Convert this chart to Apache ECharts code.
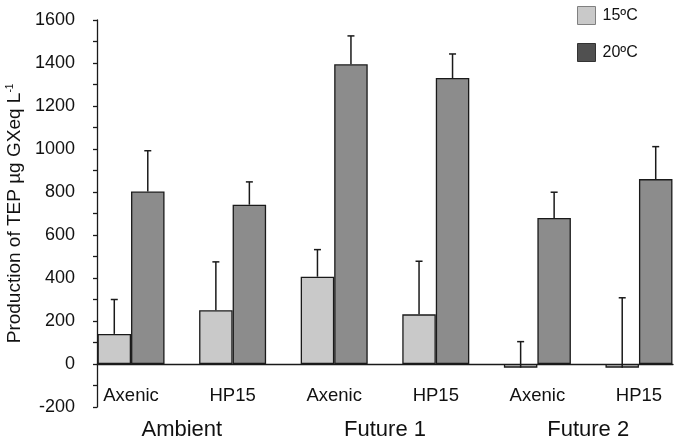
<!DOCTYPE html>
<html>
<head>
<meta charset="utf-8">
<script src="https://cdn.jsdelivr.net/npm/echarts@6/dist/echarts.min.js"></script>
<style>
html,body{margin:0;padding:0;background:#fff;}
#chart{width:680px;height:444px;}
</style>
</head>
<body>
<div id="chart"></div>
<script>
// ---- data ----
var categories = ['Axenic', 'HP15', 'Axenic', 'HP15', 'Axenic', 'HP15'];
var groups = ['Ambient', 'Future 1', 'Future 2'];
var seriesNames = ['15ºC', '20ºC'];
var values15 = [140, 250, 406, 231, -17, -17];
var errors15 = [160, 225, 126, 247, 121, 325];
var values20 = [802, 741, 1394, 1330, 679, 860];
var errors20 = [190, 106, 132, 112, 120, 151];
var yTicks = [-200, 0, 200, 400, 600, 800, 1000, 1200, 1400, 1600];

// ---- styling ----
var FONT = '"Liberation Sans", Arial, Helvetica, sans-serif';
var BAR_W = 33.5;
var C15 = '#c9c9c9';
var C20 = '#8c8c8c';

function pairs(vals) { return vals.map(function (v, i) { return [i, v]; }); }
function errData(vals, errs) { return vals.map(function (v, i) { return [i, v, errs[i]]; }); }

function errorRenderer(side) {
  return function (params, api) {
    var x = api.value(0), v = api.value(1), e = api.value(2);
    var p0 = api.coord([x, v]);
    var p1 = api.coord([x, v + e]);
    var cx = p0[0] + side * BAR_W / 2;
    var style = { stroke: '#1a1a1a', lineWidth: 1.5 };
    return {
      type: 'group',
      children: [
        { type: 'line', shape: { x1: cx, y1: p0[1], x2: cx, y2: p1[1] }, style: style },
        { type: 'line', shape: { x1: cx - 3.5, y1: p1[1], x2: cx + 3.5, y2: p1[1] }, style: style }
      ]
    };
  };
}

var chart = echarts.init(document.getElementById('chart'));
chart.setOption({
  animation: false,
  backgroundColor: '#ffffff',
  grid: { left: 97, right: 7, top: 20, bottom: 37, containLabel: false, outerBoundsMode: 'none' },
  legend: {
    orient: 'vertical',
    left: 577, top: 6, padding: 0,
    icon: 'rect',
    itemWidth: 18, itemHeight: 18, itemGap: 18,
    textStyle: { fontFamily: FONT, fontSize: 16, color: '#111', padding: [0, 0, 0, 2] },
    data: [
      { name: seriesNames[0], itemStyle: { color: C15, borderColor: '#808080', borderWidth: 1 } },
      { name: seriesNames[1], itemStyle: { color: '#505050', borderColor: '#333', borderWidth: 1 } }
    ]
  },
  xAxis: [
    {
      type: 'value', min: -0.335, max: 5.335, position: 'bottom', offset: -43,
      axisLine: { onZero: false, lineStyle: { color: '#1a1a1a', width: 1.3 } },
      axisTick: { show: false },
      splitLine: { show: false },
      axisLabel: {
        customValues: [0, 1, 2, 3, 4, 5],
        formatter: function (v) { return categories[Math.round(v)]; },
        fontFamily: FONT, fontSize: 18.5, color: '#111', margin: 22
      }
    },
    {
      type: 'value', min: -0.335, max: 5.335, position: 'bottom',
      axisLine: { show: false, onZero: false },
      axisTick: { show: false },
      splitLine: { show: false },
      axisLabel: {
        customValues: [0.5, 2.5, 4.5],
        formatter: function (v) { return groups[Math.round((v - 0.5) / 2)]; },
        fontFamily: FONT, fontSize: 22, color: '#111', margin: 12
      }
    }
  ],
  yAxis: {
    type: 'value', min: yTicks[0], max: yTicks[yTicks.length - 1], interval: 200,
    name: 'Production of TEP µg GXeq L{sup|-1}',
    nameLocation: 'middle', nameGap: 62, nameRotate: 90,
    nameTextStyle: {
      fontFamily: FONT, fontSize: 19, color: '#111',
      rich: { sup: { fontFamily: FONT, fontSize: 10, color: '#111', verticalAlign: 'top', padding: [0, 0, 8, 0] } }
    },
    axisLine: { show: true, onZero: false, lineStyle: { color: '#1a1a1a', width: 1.3 } },
    axisTick: { show: true, length: 4, lineStyle: { color: '#1a1a1a', width: 1.3 } },
    minorTick: { show: true, splitNumber: 2, length: 4, lineStyle: { color: '#1a1a1a', width: 1.3 } },
    splitLine: { show: false },
    axisLabel: {
      fontFamily: FONT, fontSize: 18, color: '#111', margin: 22,
      formatter: function (v) { return String(v); }
    }
  },
  series: [
    {
      name: seriesNames[0], type: 'bar', xAxisIndex: 0, barWidth: BAR_W, barGap: '0%',
      itemStyle: { color: C15, borderColor: '#1a1a1a', borderWidth: 1.3 },
      data: pairs(values15)
    },
    {
      name: seriesNames[1], type: 'bar', xAxisIndex: 0, barWidth: BAR_W, barGap: '0%',
      itemStyle: { color: C20, borderColor: '#1a1a1a', borderWidth: 1.3 },
      data: pairs(values20)
    },
    {
      type: 'custom', xAxisIndex: 0, renderItem: errorRenderer(-1),
      encode: { x: 0, y: [1, 2] }, data: errData(values15, errors15), z: 5
    },
    {
      type: 'custom', xAxisIndex: 0, renderItem: errorRenderer(1),
      encode: { x: 0, y: [1, 2] }, data: errData(values20, errors20), z: 5
    }
  ]
});
</script>
</body>
</html>
